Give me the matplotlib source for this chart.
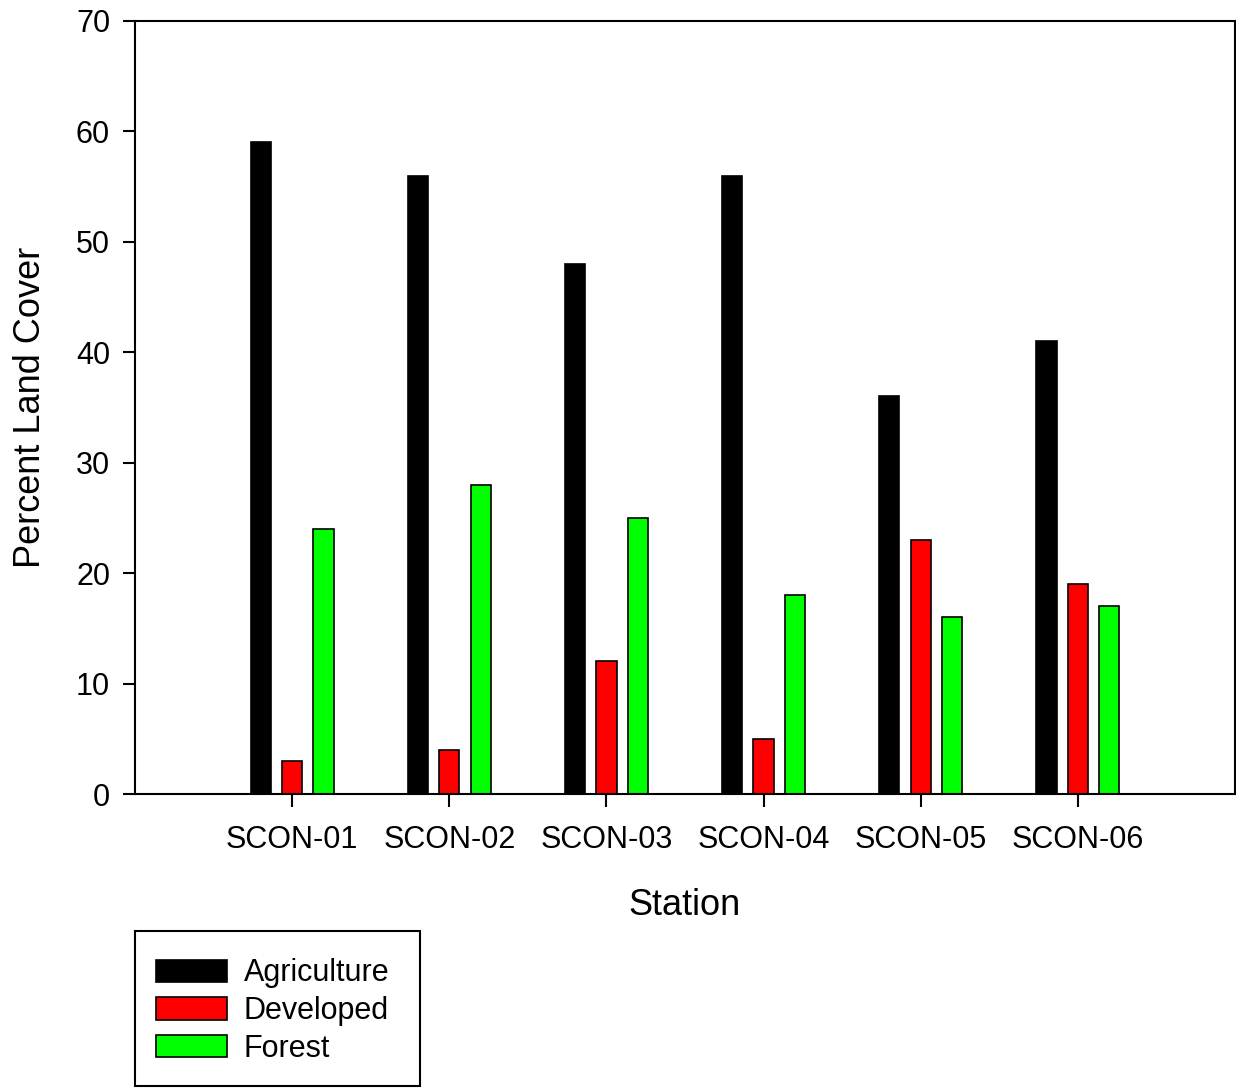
import numpy as np
import matplotlib
matplotlib.use("Agg")
from matplotlib import pyplot as plt

plt.rcParams['font.family'] = ['Liberation Sans', 'DejaVu Sans']

stations = ["SCON-01", "SCON-02", "SCON-03", "SCON-04", "SCON-05", "SCON-06"]
agriculture = [59, 56, 48, 56, 36, 41]
developed = [3, 4, 12, 5, 23, 19]
forest = [24, 28, 25, 18, 16, 17]

fig = plt.figure(figsize=(12.36, 10.9), dpi=100)
ax = fig.add_axes([135/1236, 1-794/1090, 1100/1236, (794-21)/1090])

x = np.arange(1, len(stations)+1)
w = 0.13
off = 0.2
ax.bar(x-off, agriculture, w, color='black', edgecolor='black', linewidth=1.2, label='Agriculture')
ax.bar(x, developed, w, color='#ff0000', edgecolor='black', linewidth=1.2, label='Developed')
ax.bar(x+off, forest, w, color='#00ff00', edgecolor='black', linewidth=1.2, label='Forest')

ax.set_xlim(0, 7)
ax.set_ylim(0, 70)
ax.set_xticks(x)
ax.set_xticklabels(stations)
ax.set_yticks(np.arange(0, 71, 10))
ax.tick_params(axis='both', direction='out', length=9, width=1.5, labelsize=22, pad=9)
ax.tick_params(axis='x', pad=13)
for s in ax.spines.values():
    s.set_linewidth(1.5)

ax.set_xlabel("Station", fontsize=26, labelpad=24)
ax.set_ylabel("Percent Land Cover", fontsize=26, labelpad=20)

# legend box sits below the axes, flush with the left spine
fig.patches.append(plt.Rectangle((135/1236, 1-1086/1090), 285/1236, 155/1090,
                                 transform=fig.transFigure, fill=False,
                                 edgecolor='black', linewidth=1.5))
leg = fig.legend(loc='upper left', bbox_to_anchor=(135/1236, 1-937/1090),
                 borderaxespad=0, fontsize=22, frameon=False,
                 handlelength=2.3, handleheight=0.75,
                 labelspacing=0.25, borderpad=0.7, handletextpad=0.55)

fig.savefig("out.png", dpi=100)
